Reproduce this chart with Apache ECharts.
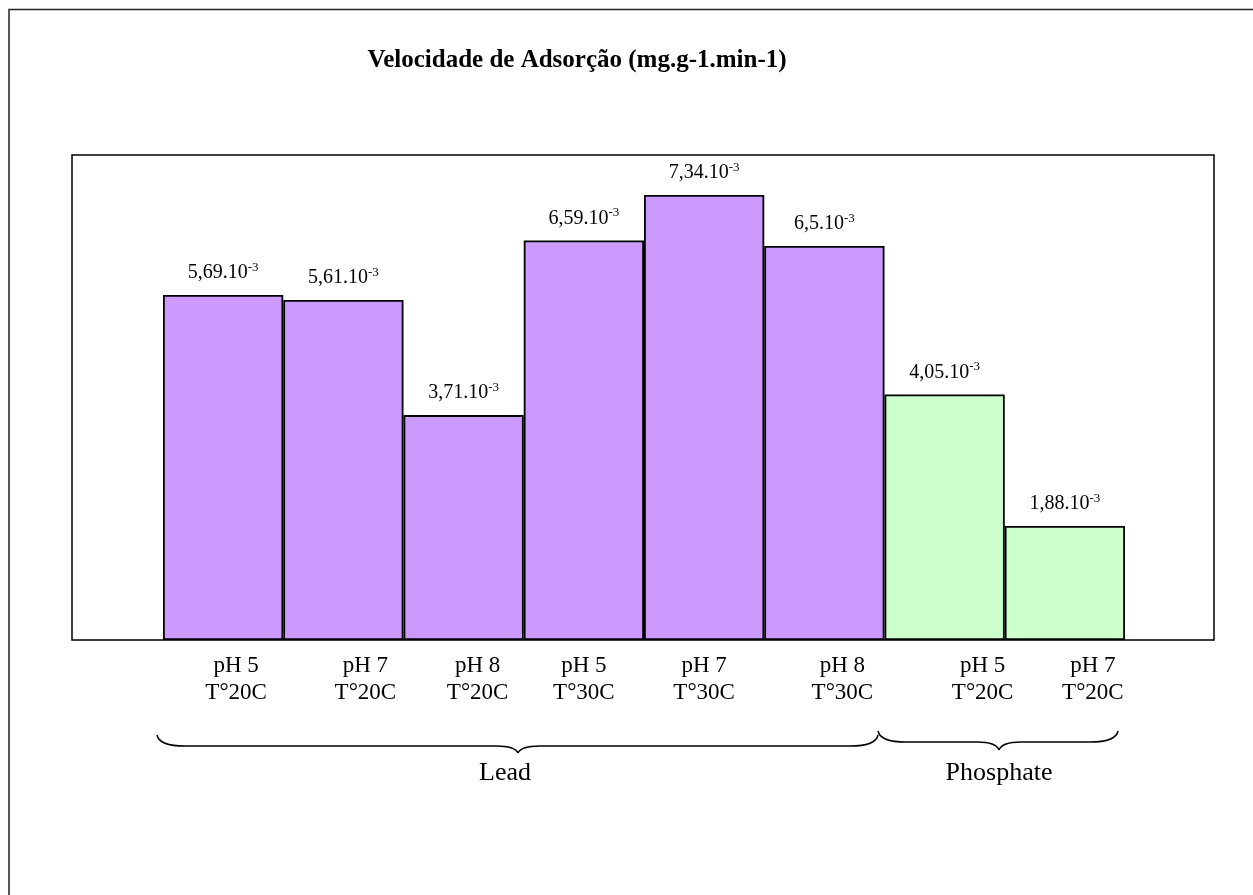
<!DOCTYPE html>
<html>
<head>
<meta charset="utf-8">
<script src="https://cdn.jsdelivr.net/npm/echarts@6/dist/echarts.min.js"></script>
<style>
  html, body { margin: 0; padding: 0; background: #fff; }
  #chart { width: 1253px; height: 895px; }
</style>
</head>
<body>
<div id="chart"></div>
<script>
// data (values in 10^-3 mg.g-1.min-1)
const categories = ['pH 5\nT°20C', 'pH 7\nT°20C', 'pH 8\nT°20C', 'pH 5\nT°30C', 'pH 7\nT°30C', 'pH 8\nT°30C', 'pH 5\nT°20C', 'pH 7\nT°20C'];
const values = [5.69, 5.61, 3.71, 6.59, 7.34, 6.5, 4.05, 1.88];
const valueLabels = ['5,69', '5,61', '3,71', '6,59', '7,34', '6,5', '4,05', '1,88'];
const groups = ['Lead', 'Lead', 'Lead', 'Lead', 'Lead', 'Lead', 'Phosphate', 'Phosphate'];
const yTicks = [0, 8];

const groupColor = { Lead: '#cc99ff', Phosphate: '#ccffcc' };
// horizontal nudge of each category label, px (labels sit a bit right of the bar centre)
const labelShift = [13, 22, 14, 0, 0, 18, 38, 28];

const chart = echarts.init(document.getElementById('chart'));
const serif = '"Liberation Serif", "Times New Roman", serif';

// curly brace made of quadratic curves + straight lines
function brace(x1, x2, yEnd, yLine, yTip, xTip) {
  const c = 28, t = 22;
  const st = { stroke: '#000', lineWidth: 1.5, fill: null };
  const q = (a, b, cx, cy) => ({ type: 'bezierCurve', silent: true, style: st,
    shape: { x1: a[0], y1: a[1], x2: b[0], y2: b[1], cpx1: cx, cpy1: cy } });
  const l = (a, b) => ({ type: 'line', silent: true, style: st,
    shape: { x1: a[0], y1: a[1], x2: b[0], y2: b[1] } });
  return [
    q([x1, yEnd], [x1 + c, yLine], x1 + 2, yLine),
    l([x1 + c, yLine], [xTip - t, yLine]),
    q([xTip - t, yLine], [xTip, yTip], xTip - 3, yLine),
    q([xTip, yTip], [xTip + t, yLine], xTip + 3, yLine),
    l([xTip + t, yLine], [x2 - c, yLine]),
    q([x2 - c, yLine], [x2, yEnd], x2 - 2, yLine)
  ];
}

const rich = {};
labelShift.forEach((s, i) => {
  rich['c' + i] = { fontFamily: serif, fontSize: 23, lineHeight: 27, color: '#000', padding: [0, 0, 0, 2 * s] };
});

const option = {
  backgroundColor: '#fff',
  animation: false,
  title: {
    text: 'Velocidade de Adsorção (mg.g-1.min-1)',
    left: 572, top: 43, textAlign: 'center',
    textStyle: { fontFamily: serif, fontWeight: 'bold', fontSize: 25, color: '#000' }
  },
  grid: [
    { left: 163, right: 128, top: 155, bottom: 255 },
    { left: 72, right: 39, top: 155, bottom: 255, show: true, borderColor: '#000', borderWidth: 1.5, backgroundColor: 'transparent' }
  ],
  xAxis: [
    {
      type: 'category', gridIndex: 0, data: categories,
      axisLine: { show: false }, axisTick: { show: false },
      axisLabel: {
        interval: 0, margin: 12,
        formatter: (v, i) => v.split('\n').map(p => '{c' + i + '|' + p + '}').join('\n'),
        rich: rich
      }
    },
    { type: 'value', gridIndex: 1, show: false, min: 0, max: 1 }
  ],
  yAxis: [
    { type: 'value', gridIndex: 0, min: yTicks[0], max: yTicks[1], show: false, splitLine: { show: false } },
    { type: 'value', gridIndex: 1, min: 0, max: 1, show: false, splitLine: { show: false } }
  ],
  series: [{
    type: 'bar',
    xAxisIndex: 0, yAxisIndex: 0,
    barCategoryGap: 0,
    data: values.map((v, i) => ({ value: v, itemStyle: { color: groupColor[groups[i]] } })),
    itemStyle: { borderColor: '#000', borderWidth: 1.8 },
    label: {
      show: true, position: 'top', distance: 10,
      formatter: p => '{a|' + valueLabels[p.dataIndex] + '.10}{s|-3}',
      rich: {
        a: { fontFamily: serif, fontSize: 20, lineHeight: 24, color: '#000' },
        s: { fontFamily: serif, fontSize: 13, lineHeight: 13, verticalAlign: 'top', color: '#000' }
      }
    }
  }],
  graphic: [
    { type: 'polyline', silent: true, shape: { points: [[9, 895], [9, 9.5], [1253, 9.5]] }, style: { stroke: '#222', lineWidth: 1.5, fill: null } },
    ...brace(157, 878, 735, 746, 753, 518),
    ...brace(878, 1118, 731, 742, 750, 999),
    { type: 'text', silent: true, x: 505, y: 773, style: { text: 'Lead', fontFamily: serif, fontSize: 26, fill: '#000', align: 'center', verticalAlign: 'middle' } },
    { type: 'text', silent: true, x: 999, y: 773, style: { text: 'Phosphate', fontFamily: serif, fontSize: 26, fill: '#000', align: 'center', verticalAlign: 'middle' } }
  ]
};

chart.setOption(option);
</script>
</body>
</html>
